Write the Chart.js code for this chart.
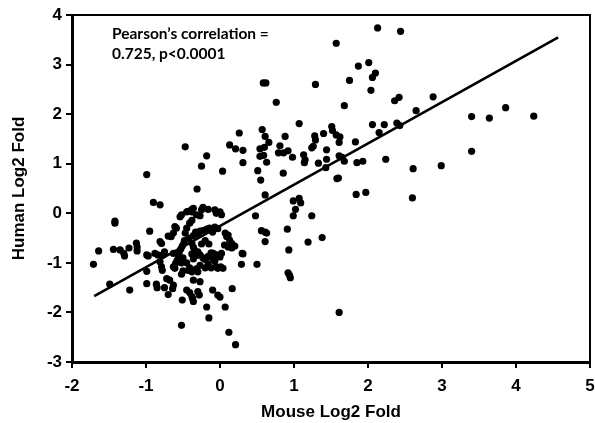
<!DOCTYPE html>
<html>
<head>
<meta charset="utf-8">
<script src="https://cdn.jsdelivr.net/npm/chart.js@4.4.1/dist/chart.umd.min.js"></script>
<style>
  html, body { margin: 0; padding: 0; background: #fff; }
  #wrap { width: 595px; height: 423px; }
</style>
</head>
<body>
<div id="wrap"><canvas id="foldChart"></canvas></div>
<script>
// mouse log2 fold (x) and human log2 fold (y)
const mouseFold = [
  -1.71, -1.64, -1.49, -1.42, -1.42, -1.44, -1.35, -1.30, -1.29, -1.23, -1.13, -1.12, -1.12, -1.22,
  -0.99, -0.90, -0.81, -0.95, -0.99, -0.97, -0.88, -0.84, -0.99, -0.99, -0.86, -0.85, -0.81, -0.79,
  -0.78, -0.77, -0.75, -0.81, -0.79, -0.70, -0.66, -0.63, -0.61, -0.59, -0.54, -0.52, -0.72, -0.68,
  -0.75, -0.64, -0.63, -0.70, -0.63, -0.61, -0.60, -0.63, -0.55, -0.53, -0.51, -0.49, -0.48, -0.54,
  -0.52, -0.50, -0.52, -0.50, -0.51, -0.52, -0.47, -0.56, -0.58,
  -0.45, -0.41, -0.38, -0.38, -0.36, -0.45, -0.43, -0.32, -0.27, -0.25, -0.23, -0.16, -0.07, -0.05,
  0.00, 0.02, -0.38, -0.36, -0.33, -0.30, -0.27, -0.23, -0.18, -0.14, -0.10, -0.07, -0.03, -0.38,
  -0.36, -0.34, -0.38, -0.36, -0.32, -0.30, -0.27, -0.23, -0.20, -0.16, -0.12, -0.10, -0.07, -0.27,
  -0.20, -0.16, -0.12, -0.45, -0.43, -0.41, -0.38, -0.32, -0.30, -0.36, -0.27, -0.45, -0.41, -0.38,
  -0.37, -0.36, -0.30, -0.28, -0.18, -0.15, -0.10, -0.03, 0.00, -0.05, -0.03, 0.01, 0.02, -0.09,
  -0.05, 0.00, -0.31, -0.25, -0.18, -0.42, -0.47, -0.20, -0.25, -0.15,
  0.035, 0.13, 0.21, 0.26, 0.31, 0.31, 0.07, 0.09, 0.11, 0.13, 0.16, 0.06, 0.11, 0.16,
  0.20, 0.04, 0.31, 0.29, 0.07, 0.12, 0.21, 0.165, 0.48, 0.50, 0.30,
  0.585, 0.62, 0.76, 0.57, 0.61, 0.66, 0.54, 0.60, 0.54, 0.59, 0.63, 0.51, 0.55, 0.61,
  0.81, 0.88, 0.79, 0.86, 0.98, 0.855, 1.07, 0.99, 1.07, 1.09, 1.02, 0.99, 0.56, 0.61,
  0.63, 0.61, 0.91, 0.93, 0.92, 0.94, 0.95, 0.92,
  1.13, 1.15, 1.14, 1.24, 1.19, 1.38, 1.61, 1.29, 1.57, 1.87, 2.01, 2.10, 2.06, 1.75,
  2.04, 1.68, 2.13, 2.44, 2.36, 2.42, 2.06, 2.22, 2.15, 2.39, 2.43, 1.83, 1.51, 1.52,
  1.57, 1.62, 1.61, 1.40, 1.28, 1.29, 1.26, 1.24, 1.44, 1.33, 1.44, 1.61, 1.65, 1.68,
  1.43, 1.85, 1.93, 2.24, 1.60, 1.58, 1.84, 1.97,
  2.88, 2.65, 3.40, 3.64, 3.86, 4.24, 3.40, 2.99, 2.61, 2.60
];
const humanFold = [
  -1.03, -0.76, -1.43, -0.16, -0.20, -0.73, -0.74, -0.81, -0.86, -0.70, -0.60, -0.68, -0.76, -1.55,
  0.78, 0.22, 0.17, -0.36, -0.84, -0.86, -0.81, -0.84, -1.17, -1.42, -1.43, -1.50, -0.98, -1.08,
  -1.15, -0.84, -0.78, -0.57, -0.61, -0.46, -0.47, -0.40, -0.27, -0.30, -0.07, -0.03, -1.32, -1.35,
  -1.50, -1.52, -1.45, -1.64, -1.08, -1.11, -1.01, -0.81, -0.78, -0.72, -0.66, -0.61, -0.55, -0.93,
  -1.00, -0.90, -1.23, -1.16, -1.75, -2.26, 1.34, -0.85, -0.95,
  -0.30, -0.20, -0.14, 0.03, 0.10, 0.03, 0.04, -0.03, -0.05, 0.07, 0.12, 0.08, 0.07, 0.00,
  0.03, -0.03, 0.08, -0.45, -0.38, -0.42, -0.36, -0.35, -0.32, -0.30, -0.38, -0.28, -0.31, -0.60,
  -0.68, -0.75, -0.82, -0.92, -0.85, -0.78, -0.84, -0.90, -0.93, -0.87, -0.80, -0.90, -0.97, -1.05,
  -1.10, -1.02, -1.10, -1.00, -1.15, -1.10, -1.18, -1.12, -1.18, -1.35, -1.38, -1.55, -1.60, -1.68,
  -1.72, -1.78, -1.58, -1.65, -1.89, -2.11, -1.55, -1.65, -1.69, -1.08, -1.11, -1.08, -0.81, -0.81,
  -0.84, -0.88, 0.49, 0.95, 1.16, -0.50, -0.40, -0.55, -0.62, -0.62,
  0.85, 1.38, 1.30, 1.62, 1.27, 1.02, -0.40, -0.47, -0.44, -0.54, -0.61, -0.64, -0.68, -0.70,
  -0.66, -1.11, -0.82, -1.03, -1.89, -2.40, -2.65, -1.52, -0.05, -1.03, -0.81,
  2.63, 2.63, 2.24, 1.69, 1.55, 1.43, 1.30, 1.33, 1.15, 1.17, 1.03, 0.86, 0.67, 0.37,
  1.36, 1.55, 1.22, 1.22, 1.13, 0.81, 1.81, 0.25, 0.30, 0.21, 0.08, -0.05, -0.35, -0.38,
  -0.40, -0.57, -0.32, -0.74, -1.20, -1.25, -1.30, 1.26,
  1.18, 1.08, 1.02, -0.05, -0.58, -0.49, -2.00, 2.60, 3.43, 2.97, 3.04, 2.83, 2.74, 2.68,
  2.48, 2.17, 3.74, 3.67, 2.27, 2.34, 1.79, 1.79, 1.63, 1.82, 1.77, 1.44, 1.75, 1.67,
  1.58, 1.54, 1.43, 1.61, 1.56, 1.48, 1.35, 1.32, 1.28, 1.01, 1.09, 1.16, 1.13, 1.05,
  0.92, 1.02, 1.05, 1.09, 0.71, 0.70, 0.38, 0.42,
  2.35, 2.07, 1.95, 1.92, 2.13, 1.96, 1.25, 0.96, 0.90, 0.31
];

// regression line end points
const fitX = [-1.70, 4.57];
const fitY = [-1.67, 3.55];

const noteLines = ["Pearson\u2019s correlation =", "0.725, p<0.0001"];
const xTitle = "Mouse Log2 Fold";
const yTitle = "Human Log2 Fold";

const tickFont = { family: "'Liberation Sans', Arial, sans-serif", weight: "bold", size: 17 };
const titleFont = { family: "'Liberation Sans', Arial, sans-serif", weight: "bold", size: 17 };

// top and right frame plus the correlation note
const framePlugin = {
  id: "frame",
  afterDraw(chart) {
    const ctx = chart.ctx;
    const a = chart.chartArea;
    ctx.save();
    ctx.strokeStyle = "#000";
    ctx.lineWidth = 2;
    ctx.beginPath();
    ctx.moveTo(a.left, a.top);
    ctx.lineTo(a.right, a.top);
    ctx.lineTo(a.right, a.bottom);
    ctx.stroke();

    ctx.fillStyle = "#000";
    ctx.font = "bold 15.5px Lato, 'Open Sans', sans-serif";
    ctx.textBaseline = "middle";
    noteLines.forEach((t, i) => ctx.fillText(t, a.left + 40, a.top + 19 + i * 19.5));
    ctx.restore();
  },
};

const ctx = document.getElementById("foldChart").getContext("2d");
new Chart(ctx, {
  type: "scatter",
  data: {
    datasets: [
      {
        data: mouseFold.map((x, i) => ({ x: x, y: humanFold[i] })),
        backgroundColor: "#000",
        borderWidth: 0,
        pointRadius: 3.6,
      },
      {
        type: "line",
        data: fitX.map((x, i) => ({ x: x, y: fitY[i] })),
        borderColor: "#000",
        borderWidth: 2.6,
        pointRadius: 0,
        fill: false,
      },
    ],
  },
  options: {
    animation: false,
    responsive: true,
    maintainAspectRatio: false,
    layout: { padding: { left: 0, right: 5, top: 15, bottom: 0 } },
    plugins: {
      legend: { display: false },
      tooltip: { enabled: false },
    },
    scales: {
      x: {
        type: "linear",
        min: -2,
        max: 5,
        ticks: { stepSize: 1, color: "#000", font: tickFont, padding: 8 },
        grid: { drawOnChartArea: false, drawTicks: true, tickLength: 6, color: "#000", lineWidth: 2 },
        border: { display: true, color: "#000", width: 3 },
        title: { display: true, text: xTitle, color: "#000", font: titleFont, padding: { top: 0, bottom: 0 } },
        afterFit: function (scale) {
          scale.height = 61;
          scale.paddingRight = 0; // let the "5" run off the edge like the original
        },
      },
      y: {
        type: "linear",
        min: -3,
        max: 4,
        ticks: { stepSize: 1, color: "#000", font: tickFont, padding: 4 },
        grid: { drawOnChartArea: false, drawTicks: true, tickLength: 6, color: "#000", lineWidth: 2 },
        border: { display: true, color: "#000", width: 3 },
        title: { display: true, text: yTitle, color: "#000", font: titleFont, padding: { top: 9, bottom: 0 } },
        afterFit: function (scale) { scale.width = 72; },
      },
    },
  },
  plugins: [framePlugin],
});
</script>
</body>
</html>
